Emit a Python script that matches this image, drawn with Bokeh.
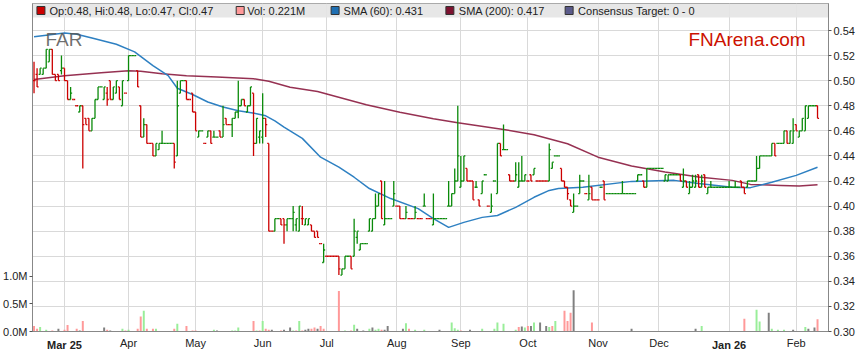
import pandas as pd
from bokeh.plotting import figure
from bokeh.models import (Range1d, LinearAxis, FixedTicker, PrintfTickFormatter,
                          Label, BoxAnnotation)
from bokeh.embed import file_html
from bokeh.resources import INLINE

# ---------------- data ----------------
dates = pd.bdate_range("2025-02-17", "2026-02-11")   # one bar per weekday

opens = [
    .500, .505, .505, .505, .510, .515, .525, .505, .505, .508,
    .510, .500, .485, .485, .480, .475, .480, .470, .470, .460,
    .470, .485, .495, .485, .490, .500, .485, .490, .495, .480,
    .490, .500, .520, .520, .508, .480, .455, .465, .450, .450,
    .440, .445, .450, .450, .450, .450, .450, .440, .490, .500,
    .500, .485, .490, .475, .455, .460, .450, .455, .460, .455,
    .455, .460, .455, .470, .465, .465, .470, .475, .480, .485,
    .475, .480, .490, .450, .455, .455, .470, .450, .380, .380,
    .390, .390, .390, .385, .390, .390, .385, .380, .390, .385,
    .385, .385, .380, .380, .370, .355, .360, .360, .360, .360,
    .360, .345, .350, .360, .360, .360, .375, .365, .370, .370,
    .380, .380, .390, .400, .420, .385, .390, .390, .400, .400,
    .400, .390, .390, .390, .390, .390, .390, .390, .400, .390,
    .390, .385, .390, .390, .390, .390, .400, .400, .410, .420,
    .415, .420, .430, .420, .420, .415, .405, .410, .425, .400,
    .395, .420, .410, .450, .445, .445, .425, .420, .420, .415,
    .420, .420, .420, .425, .425, .420, .420, .420, .420, .420,
    .430, .440, .440, .430, .420, .415, .405, .395, .400, .410,
    .420, .410, .405, .415, .405, .405, .415, .420, .410, .410,
    .410, .410, .410, .410, .410, .410, .410, .410, .420, .425,
    .420, .415, .430, .430, .430, .430, .430, .420, .420, .425,
    .425, .425, .425, .415, .420, .410, .415, .415, .425, .415,
    .425, .410, .415, .415, .415, .415, .415, .415, .415, .415,
    .415, .415, .420, .415, .415, .420, .420, .420, .430, .440,
    .440, .440, .440, .450, .450, .450, .450, .460, .450, .450,
    .465, .455, .460, .460, .470, .480, .480, .480,
]
highs = [
    .515, .510, .510, .510, .525, .525, .525, .505, .505, .520,
    .510, .500, .495, .485, .480, .480, .480, .470, .470, .470,
    .485, .495, .495, .495, .495, .500, .495, .500, .495, .500,
    .490, .520, .520, .520, .508, .480, .470, .465, .450, .450,
    .450, .450, .460, .450, .450, .450, .450, .500, .500, .500,
    .500, .485, .490, .475, .460, .460, .450, .460, .460, .460,
    .455, .460, .480, .470, .465, .470, .475, .500, .485, .485,
    .480, .495, .490, .470, .460, .490, .470, .450, .380, .390,
    .390, .390, .390, .390, .390, .400, .390, .400, .400, .390,
    .390, .385, .380, .380, .370, .370, .360, .360, .360, .360,
    .360, .350, .360, .360, .360, .390, .380, .370, .370, .370,
    .390, .390, .410, .410, .420, .420, .390, .390, .420, .400,
    .400, .390, .400, .390, .390, .400, .390, .390, .410, .390,
    .390, .410, .390, .390, .390, .390, .420, .410, .430, .480,
    .440, .440, .430, .420, .420, .420, .405, .420, .425, .400,
    .410, .420, .450, .450, .465, .445, .425, .420, .435, .435,
    .440, .425, .420, .425, .430, .420, .420, .420, .420, .450,
    .435, .440, .440, .430, .420, .415, .405, .410, .400, .425,
    .420, .410, .425, .415, .405, .405, .415, .420, .410, .410,
    .410, .410, .410, .420, .410, .410, .410, .410, .425, .425,
    .420, .430, .430, .430, .430, .430, .430, .425, .425, .425,
    .425, .425, .425, .430, .420, .420, .425, .425, .425, .425,
    .425, .415, .420, .415, .415, .415, .415, .415, .420, .415,
    .420, .415, .420, .415, .420, .420, .420, .440, .440, .440,
    .440, .440, .450, .450, .450, .450, .460, .460, .460, .470,
    .465, .460, .470, .480, .480, .480, .480, .480,
]
lows = [
    .490, .495, .505, .505, .510, .515, .505, .500, .500, .505,
    .500, .485, .485, .485, .480, .475, .430, .465, .460, .460,
    .470, .485, .495, .485, .480, .485, .485, .490, .485, .480,
    .490, .500, .520, .520, .495, .455, .455, .450, .450, .440,
    .440, .445, .450, .450, .450, .450, .430, .440, .490, .500,
    .485, .485, .475, .460, .455, .460, .450, .455, .450, .455,
    .455, .455, .455, .465, .465, .455, .470, .470, .480, .480,
    .475, .480, .440, .450, .450, .450, .455, .380, .380, .380,
    .390, .385, .370, .380, .390, .380, .380, .380, .385, .385,
    .385, .380, .375, .375, .370, .355, .360, .360, .360, .360,
    .345, .345, .350, .360, .350, .360, .370, .365, .370, .370,
    .380, .380, .390, .400, .390, .385, .390, .390, .400, .400,
    .390, .390, .390, .390, .390, .390, .390, .390, .400, .390,
    .390, .385, .390, .390, .390, .390, .400, .400, .410, .420,
    .415, .420, .420, .420, .405, .415, .400, .410, .425, .400,
    .395, .420, .410, .440, .445, .445, .420, .420, .420, .415,
    .420, .420, .420, .420, .425, .420, .420, .420, .420, .420,
    .430, .440, .440, .420, .415, .405, .400, .395, .400, .410,
    .420, .410, .405, .405, .405, .405, .415, .405, .410, .410,
    .410, .410, .410, .410, .410, .410, .410, .410, .420, .425,
    .415, .415, .430, .430, .430, .430, .430, .420, .420, .425,
    .425, .425, .420, .415, .415, .410, .415, .415, .415, .415,
    .415, .410, .415, .415, .415, .415, .415, .415, .415, .415,
    .415, .415, .415, .410, .415, .420, .420, .420, .430, .440,
    .440, .440, .440, .440, .450, .450, .450, .450, .450, .450,
    .460, .455, .460, .460, .470, .480, .480, .470,
]
closes = [
    .500, .495, .510, .510, .525, .525, .505, .500, .500, .510,
    .500, .485, .490, .485, .480, .480, .465, .465, .460, .470,
    .485, .495, .495, .495, .485, .485, .495, .500, .485, .500,
    .490, .520, .520, .520, .495, .455, .465, .450, .450, .440,
    .450, .450, .450, .450, .450, .450, .435, .480, .500, .500,
    .485, .485, .475, .460, .460, .460, .450, .460, .450, .455,
    .455, .455, .465, .465, .465, .470, .475, .480, .485, .480,
    .480, .495, .450, .470, .460, .470, .465, .380, .380, .390,
    .390, .385, .385, .390, .390, .395, .390, .400, .390, .390,
    .390, .380, .375, .375, .370, .365, .360, .360, .360, .360,
    .350, .350, .360, .360, .350, .380, .380, .370, .370, .370,
    .390, .390, .400, .410, .390, .390, .390, .390, .410, .400,
    .390, .390, .395, .390, .390, .395, .390, .390, .400, .390,
    .390, .390, .390, .390, .390, .390, .400, .410, .420, .440,
    .420, .440, .420, .420, .405, .415, .400, .420, .425, .400,
    .400, .420, .450, .440, .445, .445, .420, .420, .425, .420,
    .420, .425, .420, .420, .430, .420, .420, .420, .420, .445,
    .435, .440, .440, .420, .415, .410, .400, .400, .400, .420,
    .420, .410, .410, .405, .405, .405, .415, .405, .410, .410,
    .410, .410, .410, .410, .410, .410, .410, .410, .425, .425,
    .415, .430, .430, .430, .430, .430, .430, .425, .425, .425,
    .425, .425, .420, .420, .415, .415, .420, .420, .415, .420,
    .415, .415, .415, .415, .415, .415, .415, .415, .415, .415,
    .415, .415, .415, .410, .420, .420, .420, .430, .440, .440,
    .440, .440, .450, .440, .450, .450, .460, .450, .460, .460,
    .460, .460, .470, .480, .480, .480, .480, .470,
]
# volume, millions of shares
volumes = [
    .10, .05, .08, 0, .03, 0, .02, 0, .05, 0,
    .03, .115, 0, 0, .05, .02, .19, 0, 0, 0,
    .01, 0, 0, .07, .03, .02, 0, .01, 0, .05,
    .02, .03, 0, 0, .05, .27, .375, .05, 0, .05,
    .05, 0, 0, 0, 0, 0, .05, .14, 0, 0,
    .10, 0, .02, .02, 0, 0, 0, 0, 0, .03,
    .02, 0, .01, 0, 0, .02, .02, .07, 0, 0,
    0, 0, .19, .02, .02, .19, .05, .03, .03, 0,
    0, .02, .03, 0, .07, .02, .02, .19, .02, .03,
    .05, .05, .07, .05, .10, .05, 0, 0, 0, 0,
    .73, 0, .02, 0, .02, .12, .05, 0, .02, 0,
    .05, .07, .03, .05, .03, .03, .10, 0, 0, 0,
    0, .05, .15, .05, 0, .03, 0, 0, .03, 0,
    0, .01, 0, .03, 0, 0, .01, .16, .06, .03,
    .02, 0, 0, .03, 0, 0, 0, .05, 0, 0,
    0, .05, .16, 0, .14, 0, 0, 0, .03, .08,
    .09, .07, .10, .10, .16, 0, .16, 0, .10, .08,
    .10, .19, 0, 0, .375, .19, .34, .745, 0, .01,
    0, 0, 0, .16, 0, .01, .01, 0, 0, 0,
    0, 0, 0, 0, .01, 0, .05, 0, 0, 0,
    0, 0, 0, 0, 0, 0, .01, 0, 0, 0,
    .01, 0, 0, 0, 0, 0, .01, .05, 0, .10,
    0, 0, 0, 0, 0, .01, 0, 0, 0, 0,
    0, 0, .01, .23, .01, 0, 0, .39, .18, .01,
    .01, .34, .05, 0, .03, 0, .03, 0, 0, .03,
    0, 0, .01, .08, .05, 0, .07, .221,
]
# moving averages (bar number, value)
sma60_bar = [0, 10, 14, 19, 27, 33, 39, 44, 47, 52, 57, 62, 67, 73, 76, 79, 82, 88,
             94, 100, 105, 110, 117, 126, 131, 136, 141, 147, 152, 158, 164, 169,
             172, 180, 196, 210, 218, 229, 235, 242, 250, 257]
sma60_val = [.535, .538, .537, .534, .529, .523, .512, .504, .494, .489, .483, .479,
             .476, .4737, .472, .468, .463, .454, .439, .431, .423, .414, .406, .398,
             .390, .383, .387, .391, .3925, .399, .407, .4125, .414, .415, .4197,
             .4205, .418, .415, .4147, .419, .4245, .431]
sma200_bar = [0, 10, 22, 31, 35, 42, 50, 60, 72, 77, 84, 93, 109, 120, 131, 139, 154,
              164, 175, 185, 196, 207, 218, 229, 235, 245, 251, 257]
sma200_val = [.501, .504, .5063, .508, .5076, .5055, .504, .503, .5015, .4996, .4948,
              .4914, .4808, .4749, .4696, .4664, .4611, .4569, .4497, .439, .4319,
              .4271, .4231, .4205, .4173, .4165, .416, .417]

price_ticks = [0.30, 0.32, 0.34, 0.36, 0.38, 0.40, 0.42, 0.44, 0.46, 0.48, 0.50, 0.52, 0.54]
vol_ticks = [0.0, 0.5, 1.0]
month_labels = ["Mar 25", "Apr", "May", "Jun", "Jul", "Aug", "Sep", "Oct", "Nov", "Dec",
                "Jan 26", "Feb"]
bold_labels = ["Mar 25", "Jan 26"]
consensus_text = "0 - 0"

# ---------------- styling ----------------
GREEN = "#0a8a0a"
RED = "#cc0000"
VOL_UP = "#99ee99"
VOL_DN = "#ff9999"
VOL_FLAT = "#808080"
FONT = "Liberation Sans"

n = len(dates)
idx = list(range(n))

bar_col, vol_col = [], []
prev = RED
for i in range(n):
    o, c = opens[i], closes[i]
    pc = closes[i - 1] if i > 0 else c
    if c > o:
        col = GREEN
    elif c < o:
        col = RED
    elif c > pc:
        col = GREEN
    elif c < pc:
        col = RED
    else:
        col = prev
    prev = col
    bar_col.append(col)
    if i == 0:
        vol_col.append(VOL_DN)
    elif c > pc:
        vol_col.append(VOL_UP)
    elif c < pc:
        vol_col.append(VOL_DN)
    else:
        vol_col.append(VOL_FLAT)

month_ticks = []
seen = set()
for i, d in enumerate(dates):
    key = (d.year, d.month)
    if key not in seen:
        seen.add(key)
        if i > 0:
            month_ticks.append(i)

W, H = 857, 361
B_LEFT, B_RIGHT, B_TOP, B_BOTTOM = 30, 26, 3, 30
FRAME_W = W - B_LEFT - B_RIGHT
X0, X1 = -0.5, 260.6
PX_PER_PRICE = (331 - 30) / (0.54 - 0.30)
Y0 = 0.30
Y1 = 0.54 + (30 - B_TOP) / PX_PER_PRICE
VOL_TOP = (H - B_TOP - B_BOTTOM) / 55.5


def xd(img_x):
    """page x (px) -> data x"""
    return X0 + (img_x - B_LEFT) * (X1 - X0) / FRAME_W


def yd(img_y):
    """page y (px) -> price"""
    return Y0 + (331 - img_y) / PX_PER_PRICE


p = figure(width=W, height=H, output_backend="svg", toolbar_location=None,
           x_range=Range1d(X0, X1), y_range=Range1d(Y0, Y1),
           y_axis_location="right", title=None,
           min_border_left=B_LEFT, min_border_right=B_RIGHT, min_border_top=B_TOP,
           min_border_bottom=B_BOTTOM, background_fill_color="white",
           border_fill_color="white", outline_line_color="#999999")
p.extra_y_ranges = {"vol": Range1d(0, VOL_TOP)}

# price axis (right)
price_ticker = FixedTicker(ticks=price_ticks)
pax = p.yaxis[0]
pax.ticker = price_ticker
pax.formatter = PrintfTickFormatter(format="%.2f")
pax.major_tick_out = 3
pax.major_tick_in = 0
pax.minor_tick_line_color = None
pax.major_label_standoff = 2
pax.major_label_text_font = FONT
pax.major_label_text_font_size = "11px"
pax.major_label_text_color = "#222222"
pax.axis_line_color = "#888888"
pax.major_tick_line_color = "#555555"

# volume axis (left)
vax = LinearAxis(y_range_name="vol", ticker=FixedTicker(ticks=vol_ticks),
                 formatter=PrintfTickFormatter(format="%.1fM"))
vax.major_tick_out = 3
vax.major_tick_in = 0
vax.minor_tick_line_color = None
vax.major_label_standoff = 2
vax.major_label_text_font = FONT
vax.major_label_text_font_size = "11px"
vax.major_label_text_color = "#222222"
vax.axis_line_color = "#888888"
vax.major_tick_line_color = "#555555"
p.add_layout(vax, "left")

# month axis (below): regular labels
month_ticker = FixedTicker(ticks=month_ticks)
xax = p.xaxis[0]
xax.ticker = month_ticker
xax.major_label_overrides = {t: ("" if lab in bold_labels else lab)
                             for t, lab in zip(month_ticks, month_labels)}
xax.major_tick_out = 0
xax.major_tick_in = 0
xax.minor_tick_line_color = None
xax.major_label_standoff = 5
xax.major_label_text_font = FONT
xax.major_label_text_font_size = "11px"
xax.major_label_text_color = "#222222"
xax.axis_line_color = "#888888"

# second month axis for the bold year labels, pulled up onto the first one
bold_ticks = [t for t, lab in zip(month_ticks, month_labels) if lab in bold_labels]
bax = LinearAxis(ticker=FixedTicker(ticks=bold_ticks),
                 major_label_overrides={t: lab for t, lab in zip(month_ticks, month_labels)
                                        if lab in bold_labels})
bax.major_tick_out = 0
bax.major_tick_in = 0
bax.minor_tick_line_color = None
bax.axis_line_color = None
bax.major_label_standoff = -13
bax.major_label_text_font = FONT
bax.major_label_text_font_size = "11px"
bax.major_label_text_font_style = "bold"
bax.major_label_text_color = "#222222"
p.add_layout(bax, "below")

p.xgrid.ticker = month_ticker
p.ygrid.ticker = price_ticker
p.xgrid.grid_line_color = "#d9d9d9"
p.ygrid.grid_line_color = "#d9d9d9"

# legend band (under the glyphs)
band_bottom = yd(17)
p.add_layout(BoxAnnotation(bottom=band_bottom, fill_color="#e4e4e4", fill_alpha=0.9,
                           line_color=None, level="underlay"))

# watermark texts
p.add_layout(Label(x=xd(43), y=yd(39), text="FAR", text_font=FONT, text_font_size="19px",
                   text_color="#555555", text_alpha=0.85, text_baseline="alphabetic"))
p.add_layout(Label(x=xd(808), y=yd(39), text="FNArena.com", text_font=FONT,
                   text_font_size="19px", text_color="#cc1100", text_align="right",
                   text_baseline="alphabetic"))

# volume
p.vbar(x=idx, top=volumes, bottom=0, width=0.65, fill_color=vol_col, line_color=None,
       y_range_name="vol")

# moving averages
p.line(sma200_bar, sma200_val, line_color="#8b1b3f", line_width=1.5, line_alpha=0.9)
p.line(sma60_bar, sma60_val, line_color="#2e80c2", line_width=1.5)

# OHLC bars
p.segment(x0=idx, y0=lows, x1=idx, y1=highs, line_color=bar_col, line_width=1.3)
p.segment(x0=[i - 0.5 for i in idx], y0=opens, x1=idx, y1=opens, line_color=bar_col,
          line_width=1.3)
p.segment(x0=idx, y0=closes, x1=[i + 0.5 for i in idx], y1=closes, line_color=bar_col,
          line_width=1.3)

# legend
band_mid = yd(10)
last = n - 1
legend_items = [
    ("#cc0000", "Op:%.2f, Hi:%.2f, Lo:%.2f, Cl:%.2f" % (opens[last], highs[last],
                                                        lows[last], closes[last]), 38.5, 47),
    ("#ff9999", "Vol: %.3fM" % volumes[last], 239, 246),
    ("#1f6fb2", "SMA (60): %.3f" % sma60_val[-1], 334.5, 343),
    ("#7d1230", "SMA (200): %.3f" % sma200_val[-1], 450, 459),
    ("#5a5a8a", "Consensus Target: " + consensus_text, 570, 579),
]
p.scatter([xd(it[2]) for it in legend_items], [band_mid] * len(legend_items),
          marker="square", size=8, fill_color=[it[0] for it in legend_items],
          line_color="#333333", line_width=1)
for col, txt, sx, tx in legend_items:
    p.add_layout(Label(x=xd(tx), y=band_mid, text=txt, text_font=FONT,
                       text_font_size="11px", text_color="#222222",
                       text_baseline="middle"))

open("out.html", "w").write(file_html(p, INLINE))
